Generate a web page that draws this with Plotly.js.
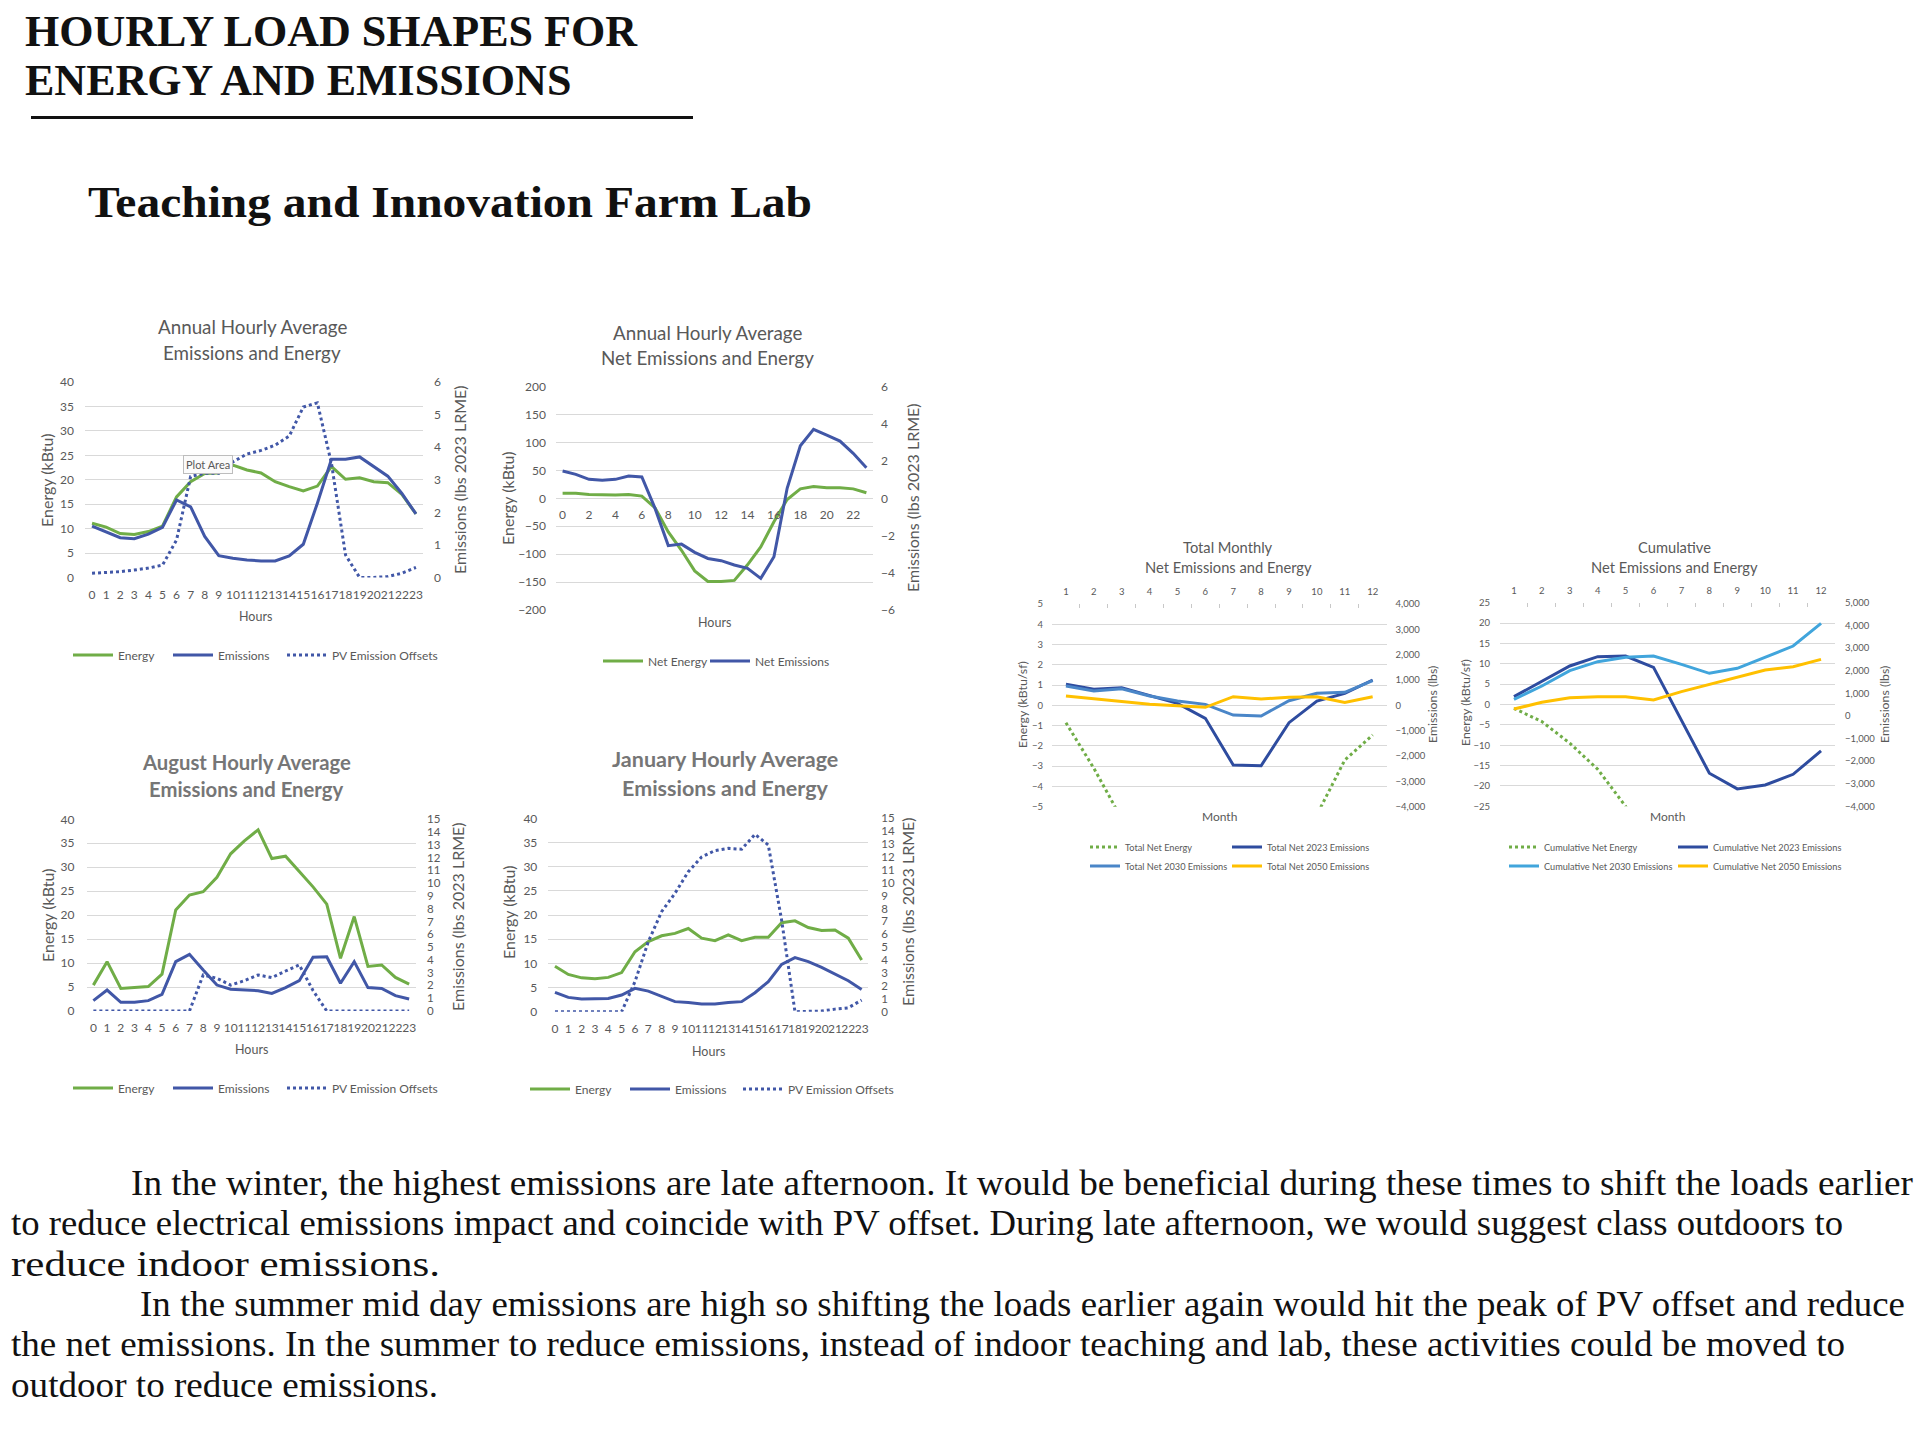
<!DOCTYPE html>
<html><head><meta charset="utf-8">
<script src="https://cdn.plot.ly/plotly-3.0.1.min.js"></script>
<style>
html,body{margin:0;padding:0;background:#fff;}
#page{position:relative;width:1920px;height:1438px;overflow:hidden;background:#fff;}
#chart{position:absolute;left:0;top:0;width:1920px;height:1438px;}
.t{position:absolute;white-space:nowrap;font-family:"Liberation Serif","Times New Roman",serif;color:#111;transform-origin:0 50%;}
.b{font-weight:bold;}
</style></head><body>
<div id="page">
<div id="chart"></div>
<div class="t b fit" data-w="612" style="left:25px;top:7px;font-size:44px;line-height:49px;transform-origin:0 0">HOURLY LOAD SHAPES FOR<br>ENERGY AND EMISSIONS</div>
<div style="position:absolute;left:31px;top:116px;width:662px;height:3px;background:#111"></div>
<div class="t b fit" data-w="724" style="left:88px;top:181px;font-size:44px;line-height:44px">Teaching and Innovation Farm Lab</div>
<div class="t fit" data-w="1782" style="left:131px;top:1165px;font-size:36px;line-height:36px">In the winter, the highest emissions are late afternoon. It would be beneficial during these times to shift the loads earlier</div>
<div class="t fit" data-w="1832" style="left:11px;top:1205px;font-size:36px;line-height:36px">to reduce electrical emissions impact and coincide with PV offset. During late afternoon, we would suggest class outdoors to</div>
<div class="t fit" data-w="429" style="left:11px;top:1246px;font-size:36px;line-height:36px">reduce indoor emissions.</div>
<div class="t fit" data-w="1765" style="left:140px;top:1286px;font-size:36px;line-height:36px">In the summer mid day emissions are high so shifting the loads earlier again would hit the peak of PV offset and reduce</div>
<div class="t fit" data-w="1834" style="left:11px;top:1326px;font-size:36px;line-height:36px">the net emissions. In the summer to reduce emissions, instead of indoor teaching and lab, these activities could be moved to</div>
<div class="t fit" data-w="427" style="left:11px;top:1367px;font-size:36px;line-height:36px">outdoor to reduce emissions.</div>
</div>
<script>
// ---------- data ----------
const hours = [0,1,2,3,4,5,6,7,8,9,10,11,12,13,14,15,16,17,18,19,20,21,22,23];
const netHourTicks = [0,2,4,6,8,10,12,14,16,18,20,22];
const months = [1,2,3,4,5,6,7,8,9,10,11,12];
const monthLabels = months.map(String);

const annualEnergy = [11.1,10.3,9.0,8.8,9.4,10.5,16.5,19.6,21.3,21.4,23.0,22.0,21.4,19.6,18.6,17.7,18.7,22.7,20.1,20.4,19.6,19.4,17.0,13.0];
const annualEmissions = [1.58,1.41,1.22,1.19,1.33,1.54,2.38,2.17,1.26,0.67,0.59,0.54,0.51,0.51,0.66,1.02,2.28,3.63,3.63,3.70,3.40,3.11,2.58,1.95];
const annualPV = [0.13,0.15,0.18,0.23,0.29,0.38,1.15,3.1,3.2,3.2,3.55,3.79,3.9,4.06,4.34,5.23,5.36,3.5,0.69,0.0,0.0,0.03,0.13,0.31];

const netEnergy = [9,9,7,6,6,7,4,-17,-60,-93,-130,-149,-149,-147,-119,-87,-42,-2,17,21,19,19,17,10];
const netEmissions = [1.47,1.29,1.02,0.97,1.02,1.2,1.15,-0.54,-2.54,-2.46,-2.9,-3.23,-3.35,-3.58,-3.76,-4.3,-3.14,0.54,2.83,3.71,3.4,3.08,2.42,1.65];

const augEnergy = [5.4,10.3,4.7,4.9,5.1,7.7,21.1,24.2,24.9,27.9,32.8,35.5,37.8,31.8,32.3,29.1,25.9,22.3,11.0,19.7,9.3,9.6,7.0,5.6];
const augEmissions = [0.81,1.64,0.68,0.68,0.81,1.3,3.86,4.43,3.2,2.03,1.7,1.64,1.59,1.38,1.83,2.37,4.2,4.25,2.17,3.86,1.83,1.77,1.2,0.94];
const augPV = [0,0,0,0,0,0,0,0,2.82,2.56,2.03,2.37,2.82,2.61,3.13,3.6,1.6,0,0,0,0,0,0,0];

const janEnergy = [9.4,7.7,7.0,6.8,7.1,8.1,12.4,14.5,15.7,16.2,17.2,15.2,14.7,15.9,14.7,15.4,15.4,18.4,18.8,17.4,16.8,16.9,15.2,10.7];
const janEmissions = [1.5,1.11,0.98,0.98,1.03,1.29,1.81,1.6,1.16,0.78,0.72,0.59,0.59,0.72,0.78,1.47,2.33,3.67,4.19,3.88,3.44,2.9,2.4,1.73];
const janPV = [0,0,0,0,0,0,2.33,5.43,7.76,9.18,10.86,12.0,12.5,12.67,12.6,13.76,12.93,7.1,0,0,0.05,0.2,0.3,0.9];

const monthlyNetEnergy = [-0.86,-3.1,-5.6,-6.4,-9.1,-10.5,-11,-10,-8,-5.4,-2.7,-1.46];
const monthly2023 = [829,632,697,382,79,-513,-2355,-2382,-684,171,474,1000];
const monthly2030 = [763,566,658,368,171,39,-382,-421,184,474,513,974];
const monthly2050 = [368,250,145,39,-13,-79,342,250,316,342,118,342];

const cumNetEnergy = [-0.94,-4.2,-9.5,-15.9,-25,-35.5,-46.5,-56.5,-64.5,-70,-72.7,-74.2];
const cum2023 = [847,1510,2202,2614,2643,2143,-184,-2540,-3232,-3056,-2585,-1554];
const cum2030 = [729,1318,1996,2393,2585,2643,2275,1878,2099,2585,3085,4087];
const cum2050 = [302,596,803,847,847,700,1068,1392,1701,2025,2172,2496];

// ---------- styling ----------
const W = 1920, H = 1438;
const px = x => x / W, py = y => 1 - y / H;
const dom = (a, b) => [px(a), px(b)];
const ydom = (top, bot) => [py(bot), py(top)];
const FONT = 'Lato, "Open Sans", "Liberation Sans", sans-serif';
const gray = '#595959', grid = '#d9d9d9';
const green = '#70AD47', emBlue = '#4157A7', dark23 = '#2E4C9F', mid30 = '#4A86C8', light30 = '#41A5DC', orange = '#FFC000';

function yLeft(domain, anchor, range, dtick, size, standoff) {
  return {domain, anchor, range, dtick, tick0: range[0], showgrid: true, gridcolor: grid, gridwidth: 1,
    zeroline: false, showline: false, ticks: '', ticklabelstandoff: standoff,
    tickfont: {family: FONT, size, color: gray}, fixedrange: true};
}
function yRight(over, anchor, range, dtick, size, standoff, fmt) {
  return {overlaying: over, anchor, side: 'right', range, dtick, tick0: range[0], showgrid: false,
    zeroline: false, showline: false, ticks: '', ticklabelstandoff: standoff, tickformat: fmt || '',
    tickfont: {family: FONT, size, color: gray}, fixedrange: true};
}
function xHours(domain, anchor, vals, size, standoff) {
  return {domain, anchor, range: [-0.5, 23.5], tickmode: 'array', tickvals: vals, ticktext: vals.map(String),
    tickangle: 0, showgrid: false, zeroline: false, showline: false, ticks: '', ticklabelstandoff: standoff,
    tickfont: {family: FONT, size, color: gray}, fixedrange: true};
}
function xMonths(domain, anchor) {
  return {domain, anchor, side: 'top', range: [0.5, 12.5], tickmode: 'array', tickvals: months, ticktext: monthLabels,
    tickangle: 0, showgrid: false, zeroline: false, showline: false, ticks: '', ticklabelstandoff: 6,
    minor: {tickmode: 'array', tickvals: [1.5,2.5,3.5,4.5,5.5,6.5,7.5,8.5,9.5,10.5,11.5], ticks: 'inside', ticklen: 4, tickcolor: '#c8c8c8', showgrid: false},
    tickfont: {family: FONT, size: 9.5, color: gray}, fixedrange: true};
}
function line(x, y, name, color, xa, ya, lg, dash) {
  return {type: 'scatter', mode: 'lines', x, y, name, xaxis: xa, yaxis: ya, legend: lg,
    line: {color, width: 3, dash: dash || 'solid'}, hoverinfo: 'skip', cliponaxis: true};
}
// one legend per entry, placed where the reference shows its key line (x = start of key line)
function leg(lineStart, y, size, itemwidth) {
  return {x: px(lineStart - 5), y: py(y), xanchor: 'left', yanchor: 'middle', orientation: 'h', bgcolor: 'rgba(0,0,0,0)',
    font: {family: FONT, size, color: gray}, itemwidth, traceorder: 'normal', itemclick: false, itemdoubleclick: false};
}
function ann(text, x, y, size, extra) {
  return Object.assign({text, x: px(x), y: py(y), xref: 'paper', yref: 'paper', showarrow: false,
    xanchor: 'center', yanchor: 'middle', font: {family: FONT, size, color: gray}}, extra || {});
}
const vt = {textangle: -90};
const boldTitle = s => ({font: {family: FONT, size: s, color: '#767676', weight: 'bold'}});

const traces = [
  // Chart 1 annual
  line(hours, annualEnergy, 'Energy', green, 'x', 'y', 'legend'),
  line(hours, annualEmissions, 'Emissions', emBlue, 'x', 'y2', 'legend2'),
  line(hours, annualPV, 'PV Emission Offsets', emBlue, 'x', 'y2', 'legend3', 'dot'),
  // Chart 2 net
  line(hours, netEnergy, 'Net Energy', green, 'x2', 'y3', 'legend4'),
  line(hours, netEmissions, 'Net Emissions', emBlue, 'x2', 'y4', 'legend5'),
  // Chart 3 August
  line(hours, augEnergy, 'Energy', green, 'x3', 'y5', 'legend6'),
  line(hours, augEmissions, 'Emissions', emBlue, 'x3', 'y6', 'legend7'),
  line(hours, augPV, 'PV Emission Offsets', emBlue, 'x3', 'y6', 'legend8', 'dot'),
  // Chart 4 January
  line(hours, janEnergy, 'Energy', green, 'x4', 'y7', 'legend9'),
  line(hours, janEmissions, 'Emissions', emBlue, 'x4', 'y8', 'legend10'),
  line(hours, janPV, 'PV Emission Offsets', emBlue, 'x4', 'y8', 'legend11', 'dot'),
  // Chart 5 monthly
  line(months, monthlyNetEnergy, 'Total Net Energy', green, 'x5', 'y9', 'legend12', 'dot'),
  line(months, monthly2023, 'Total Net 2023 Emissions', dark23, 'x5', 'y10', 'legend13'),
  line(months, monthly2030, 'Total Net 2030 Emissions', mid30, 'x5', 'y10', 'legend14'),
  line(months, monthly2050, 'Total Net 2050 Emissions', orange, 'x5', 'y10', 'legend15'),
  // Chart 6 cumulative
  line(months, cumNetEnergy, 'Cumulative Net Energy', green, 'x6', 'y11', 'legend16', 'dot'),
  line(months, cum2023, 'Cumulative Net 2023 Emissions', dark23, 'x6', 'y12', 'legend17'),
  line(months, cum2030, 'Cumulative Net 2030 Emissions', light30, 'x6', 'y12', 'legend18'),
  line(months, cum2050, 'Cumulative Net 2050 Emissions', orange, 'x6', 'y12', 'legend19'),
];

const c2top = 386.7, c2bot = 610;
const layout = {
  width: W, height: H, margin: {l: 0, r: 0, t: 0, b: 0}, paper_bgcolor: '#fff', plot_bgcolor: 'rgba(0,0,0,0)',
  showlegend: true, hovermode: false,
  xaxis: xHours(dom(85, 423), 'y', hours, 12, 8),
  yaxis: yLeft(ydom(382, 577.5), 'x', [0, 40], 5, 12, 10),
  yaxis2: yRight('y', 'x', [0, 6], 1, 12, 10),
  xaxis2: Object.assign(xHours(dom(556, 873), 'free', netHourTicks, 12, 8), {position: py((c2top + c2bot) / 2)}),
  yaxis3: yLeft(ydom(c2top, c2bot), 'x2', [-200, 200], 50, 12, 9),
  yaxis4: yRight('y3', 'x2', [-6, 6], 2, 12, 7),
  xaxis3: xHours(dom(86.5, 416), 'y5', hours, 12, 8),
  yaxis5: yLeft(ydom(819.3, 1011), 'x3', [0, 40], 5, 12, 11),
  yaxis6: yRight('y5', 'x3', [0, 15], 1, 11.5, 10),
  xaxis4: xHours(dom(548.3, 868.3), 'y7', hours, 12, 8),
  yaxis7: yLeft(ydom(818.3, 1011.7), 'x4', [0, 40], 5, 12, 10),
  yaxis8: yRight('y7', 'x4', [0, 15], 1, 11.5, 12),
  xaxis5: xMonths(dom(1052, 1386.6), 'y9'),
  yaxis9: yLeft(ydom(604, 806.7), 'x5', [-5, 5], 1, 9.5, 8),
  yaxis10: yRight('y9', 'x5', [-4000, 4000], 1000, 9.5, 8, ',d'),
  xaxis6: xMonths(dom(1500, 1835), 'y11'),
  yaxis11: yLeft(ydom(602.7, 806.3), 'x6', [-25, 25], 5, 9.5, 9),
  yaxis12: yRight('y11', 'x6', [-4000, 5000], 1000, 9.5, 9, ',d'),
  legend: leg(73, 655, 12, 40),
  legend2: leg(173, 655, 12, 40),
  legend3: leg(287, 655, 12, 40),
  legend4: leg(603, 661, 12, 40),
  legend5: leg(710, 661, 12, 40),
  legend6: leg(73, 1088, 12, 40),
  legend7: leg(173, 1088, 12, 40),
  legend8: leg(287, 1088, 12, 40),
  legend9: leg(530, 1089, 12, 40),
  legend10: leg(630, 1089, 12, 40),
  legend11: leg(743, 1089, 12, 40),
  legend12: leg(1090, 847, 9.2, 30),
  legend13: leg(1232, 847, 9.2, 30),
  legend14: leg(1090, 866, 9.2, 30),
  legend15: leg(1232, 866, 9.2, 30),
  legend16: leg(1509, 847, 9.2, 30),
  legend17: leg(1678, 847, 9.2, 30),
  legend18: leg(1509, 866, 9.2, 30),
  legend19: leg(1678, 866, 9.2, 30),
  annotations: [
    // chart 1
    ann('Annual Hourly Average', 252, 327, 18.8),
    ann('Emissions and Energy', 252, 353, 18.8),
    ann('Energy (kBtu)', 46, 480, 16, vt),
    ann('Emissions (lbs 2023 LRME)', 459, 480, 16, vt),
    ann('Hours', 255, 616, 12.5),
    {text: 'Plot Area', x: 8.2, y: 23.2, xref: 'x', yref: 'y', showarrow: false, xanchor: 'center', yanchor: 'middle',
     font: {family: FONT, size: 11, color: gray}, bgcolor: '#fbfbfb', bordercolor: '#bdbdbd', borderwidth: 1, borderpad: 2},
    // chart 2
    ann('Annual Hourly Average', 707, 332, 18.8),
    ann('Net Emissions and Energy', 707, 358, 18.8),
    ann('Energy (kBtu)', 507, 498, 16, vt),
    ann('Emissions (lbs 2023 LRME)', 912, 498, 16, vt),
    ann('Hours', 714, 622, 12.5),
    // chart 3
    ann('August Hourly Average', 247, 762, 20.3, boldTitle(20.3)),
    ann('Emissions and Energy', 247, 789, 20.3, boldTitle(20.3)),
    ann('Energy (kBtu)', 47, 915, 16, vt),
    ann('Emissions (lbs 2023 LRME)', 457, 917, 16, vt),
    ann('Hours', 251, 1049, 12.5),
    // chart 4
    ann('January Hourly Average', 725, 759, 21.5, boldTitle(21.5)),
    ann('Emissions and Energy', 725, 788, 21.5, boldTitle(21.5)),
    ann('Energy (kBtu)', 508, 912, 16, vt),
    ann('Emissions (lbs 2023 LRME)', 907, 912, 16, vt),
    ann('Hours', 708, 1051, 12.5),
    // chart 5
    ann('Total Monthly', 1228, 547, 14.7),
    ann('Net Emissions and Energy', 1228, 567, 14.7),
    ann('Energy (kBtu/sf)', 1022, 705, 12.3, vt),
    ann('Emissions (lbs)', 1432, 705, 12.3, vt),
    ann('Month', 1219, 816, 12),
    // chart 6
    ann('Cumulative', 1674, 547, 14.7),
    ann('Net Emissions and Energy', 1674, 567, 14.7),
    ann('Energy (kBtu/sf)', 1465, 703, 12.3, vt),
    ann('Emissions (lbs)', 1884, 705, 12.3, vt),
    ann('Month', 1667, 816, 12),
  ]
};

Plotly.newPlot('chart', traces, layout, {staticPlot: true, displayModeBar: false});

function fit() {
  document.querySelectorAll('.fit').forEach(el => {
    el.style.transform = 'none';
    const w = el.getBoundingClientRect().width;
    el.style.transform = 'scaleX(' + (parseFloat(el.dataset.w) / w) + ')';
  });
}
fit();
if (document.fonts && document.fonts.ready) document.fonts.ready.then(fit);
</script>
</body></html>
